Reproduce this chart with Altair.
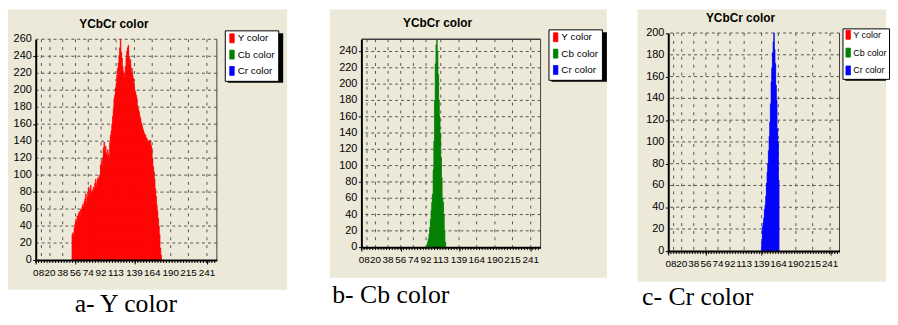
import altair as alt
import pandas as pd

# ---------------- data ----------------
SERIES = ["Y color", "Cb color", "Cr color"]
COLORS = ["#FF0000", "#008000", "#0000FF"]
TITLE = "YCbCr color"
CAPTIONS = ["a- Y color", "b- Cb color", "c- Cr color"]
X_TICKS = [0, 8, 20, 38, 56, 74, 92, 113, 139, 164, 190, 215, 241]
Y_TOPS = [260, 255, 200]
Y_GRID_TOPS = [260, 240, 200]

Y_START = 51
Y_COUNTS = [30, 32, 28, 38, 42, 48, 45, 52, 50, 55,
            57, 52, 60, 58, 63, 66, 62, 69, 72, 78,
            68, 75, 80, 86, 76, 84, 88, 78, 82, 80,
            86, 84, 90, 95, 88, 92, 97, 95, 100, 98,
            112, 116, 108, 120, 132, 139, 128, 134, 126, 122,
            130, 124, 120, 138, 147, 152, 160, 169, 178, 190,
            194, 202, 208, 218, 226, 232, 241, 250, 260, 245,
            238, 228, 222, 214, 220, 228, 238, 246, 250, 253,
            240, 230, 236, 222, 226, 218, 214, 208, 200, 198,
            194, 190, 182, 178, 175, 170, 167, 162, 159, 156,
            153, 150, 148, 147, 144, 143, 140, 139, 141, 138,
            141, 135, 132, 120, 110, 104, 95, 84, 75, 65,
            58, 49, 40, 30, 14, 6]

CB_START = 93
CB_COUNTS = [3, 6, 10, 16, 24, 34, 45, 55, 65, 95, 130, 180, 225, 248,
             255, 240, 212, 180, 160, 140, 110, 85, 60, 55, 40, 20, 6]

CR_START = 139
CR_COUNTS = [8, 22, 26, 30, 38, 42, 50, 62, 72, 80, 92, 105, 118, 135,
             155, 168, 182, 192, 200, 185, 172, 152, 138, 112, 100, 65]

# ---------------- layout (pixels, relative to each plot group) ----------------
PANELS = [
    dict(W=183, H=223, yrange=None, vtop=0,
         slot=(-28, 297, -30, 279), beige=(-28, 254, -30, 253),
         legend=(191, -9), leg_pad=3, leg_font=10, leg_rp=2.5, leg_size=(56, 50),
         title=(79, -15), cap=(90.5, 52, "center")),
    dict(W=181, H=210, yrange=None, vtop=0,
         slot=(-32, 279, -30, 279), beige=(-32, 248, -30, 241),
         legend=(189, -10), leg_pad=3, leg_font=10, leg_rp=2.5, leg_size=(56, 50),
         title=(77, -16), cap=(-30, 56, "left")),
    dict(W=173, H=214, yrange=[213.7, -6.3], vtop=-6.3,
         slot=(-31, 220, -30, 279), beige=(-31, 220, -30, 245),
         legend=(176, -11), leg_pad=2, leg_font=9, leg_rp=5, leg_size=(44, 50),
         title=(73, -21), cap=(-27, 54, "left")),
]
BEIGE = "#ECE9D8"
GRID = "#555555"
SANS = "Liberation Sans, Arial, sans-serif"


def panel(i, start, counts):
    p = PANELS[i]
    W, H = p["W"], p["H"]
    xs = alt.Scale(domain=[0, 255], nice=False, zero=False)
    if p["yrange"] is None:
        ys = alt.Scale(domain=[0, Y_TOPS[i]], nice=False, zero=True)
    else:
        ys = alt.Scale(domain=[0, Y_TOPS[i]], nice=False, zero=True, range=p["yrange"])
    one = pd.DataFrame({"k": [0]})
    y_vals = list(range(0, Y_GRID_TOPS[i] + 1, 20))

    bars_df = pd.DataFrame({"x0": [start + k for k in range(len(counts))], "count": counts})
    bars_df["x1"] = bars_df["x0"] + 1
    bars_df["base"] = 0
    bars_df["series"] = SERIES[i]

    sx0, sx1, sy0, sy1 = p["slot"]
    slot = alt.Chart(one).mark_rect(opacity=0).encode(
        x=alt.value(sx0), x2=alt.value(sx1), y=alt.value(sy0), y2=alt.value(sy1))
    bx0, bx1, by0, by1 = p["beige"]
    beige = alt.Chart(one).mark_rect(color=BEIGE).encode(
        x=alt.value(bx0), x2=alt.value(bx1), y=alt.value(by0), y2=alt.value(by1))
    lx, ly = p["legend"]
    lw, lh = p["leg_size"]
    shadow = alt.Chart(one).mark_rect(color="black").encode(
        x=alt.value(lx + 3), x2=alt.value(min(lx + 3 + lw, sx1)),
        y=alt.value(ly + 3), y2=alt.value(ly + 3 + lh))
    tx, ty = p["title"]
    title = alt.Chart(one).mark_text(
        font=SANS, fontSize=12, fontWeight="bold", color="black",
        align="center", baseline="middle").encode(
        x=alt.value(tx), y=alt.value(ty), text=alt.value(TITLE))

    hgrid = alt.Chart(pd.DataFrame({"v": y_vals[1:]})).mark_rule(
        color=GRID, strokeDash=[3, 3], strokeWidth=1).encode(
        y=alt.Y("v:Q", scale=ys))
    vgrid = alt.Chart(pd.DataFrame({"v": X_TICKS[1:]})).mark_rule(
        color=GRID, strokeDash=[3, 5], strokeWidth=1).encode(
        x=alt.X("v:Q", scale=xs), y=alt.value(p["vtop"]), y2=alt.value(H))

    xlab = alt.Chart(pd.DataFrame({"v": X_TICKS})).mark_text(
        font=SANS, fontSize=10, color="black", align="center", baseline="middle").encode(
        x=alt.X("v:Q", scale=xs), y=alt.value(H + 13.5), text="v:Q")
    ylab = alt.Chart(pd.DataFrame({"v": y_vals})).mark_text(
        font=SANS, fontSize=11, color="black", align="right", baseline="middle").encode(
        y=alt.Y("v:Q", scale=ys), x=alt.value(-4), text="v:Q")

    cx, cy, calign = p["cap"]
    x_axis = alt.Axis(values=X_TICKS, labels=False, title=CAPTIONS[i], titleX=cx,
                      titleY=cy, titleAlign=calign, zindex=1)
    y_axis = alt.Axis(values=y_vals, labels=False, title=None, zindex=1)
    legend = alt.Legend(title=None, orient="none", legendX=lx, legendY=ly,
                        direction="vertical", fillColor="white", strokeColor="black",
                        padding=p["leg_pad"], symbolType="M-1.5,-2.25H0.75V2.25H-1.5Z",
                        symbolSize=16, symbolStrokeColor="#333333", symbolStrokeWidth=0.8,
                        labelFont=SANS, labelFontSize=p["leg_font"], labelColor="black",
                        labelOffset=0, rowPadding=p["leg_rp"], zindex=1)
    cscale = alt.Scale(domain=SERIES, range=COLORS)
    bars = alt.Chart(bars_df).mark_rect(strokeWidth=0.6).encode(
        x=alt.X("x0:Q", scale=xs, axis=x_axis),
        x2="x1:Q",
        y=alt.Y("count:Q", scale=ys, axis=y_axis),
        y2="base:Q",
        color=alt.Color("series:N", scale=cscale, legend=legend),
        stroke=alt.Stroke("series:N", scale=cscale, legend=None),
    )

    right = alt.Chart(one).mark_rule(color="#404040", strokeWidth=1).encode(
        x=alt.datum(255), y=alt.value(p["vtop"]), y2=alt.value(H))
    ticks = alt.Chart(pd.DataFrame({"t": list(range(0, 256, 4))})).mark_rule(
        color="black", strokeWidth=1).encode(
        x=alt.X("t:Q", scale=xs), y=alt.value(H), y2=alt.value(H + 3))

    layers = [slot, beige, shadow, title, hgrid, vgrid, bars, right, ticks, xlab, ylab]
    if i == 1:
        top = alt.Chart(one).mark_rule(color="#404040", strokeWidth=1.5).encode(
            y=alt.datum(255))
        layers.append(top)

    return alt.layer(*layers).properties(width=W, height=H)


pa = panel(0, Y_START, Y_COUNTS)
pb = panel(1, CB_START, CB_COUNTS)
pc = panel(2, CR_START, CR_COUNTS)

chart = alt.hconcat(pa, pb, pc, spacing=0).resolve_scale(
    color="independent", stroke="independent", x="independent", y="independent"
).resolve_legend(color="independent").properties(
    padding=0, background="white"
).configure_view(stroke=None).configure_axis(
    grid=False, domainColor="black", domainWidth=2, tickColor="black"
).configure_axisX(
    tickSize=4,
    titleFont="Liberation Serif, Times New Roman, serif", titleFontSize=26,
    titleFontWeight="normal", titleColor="black", titleBaseline="alphabetic"
).configure_axisY(
    tickSize=3
)

chart.save("out.html", embed_options={"renderer": "svg", "actions": False})
